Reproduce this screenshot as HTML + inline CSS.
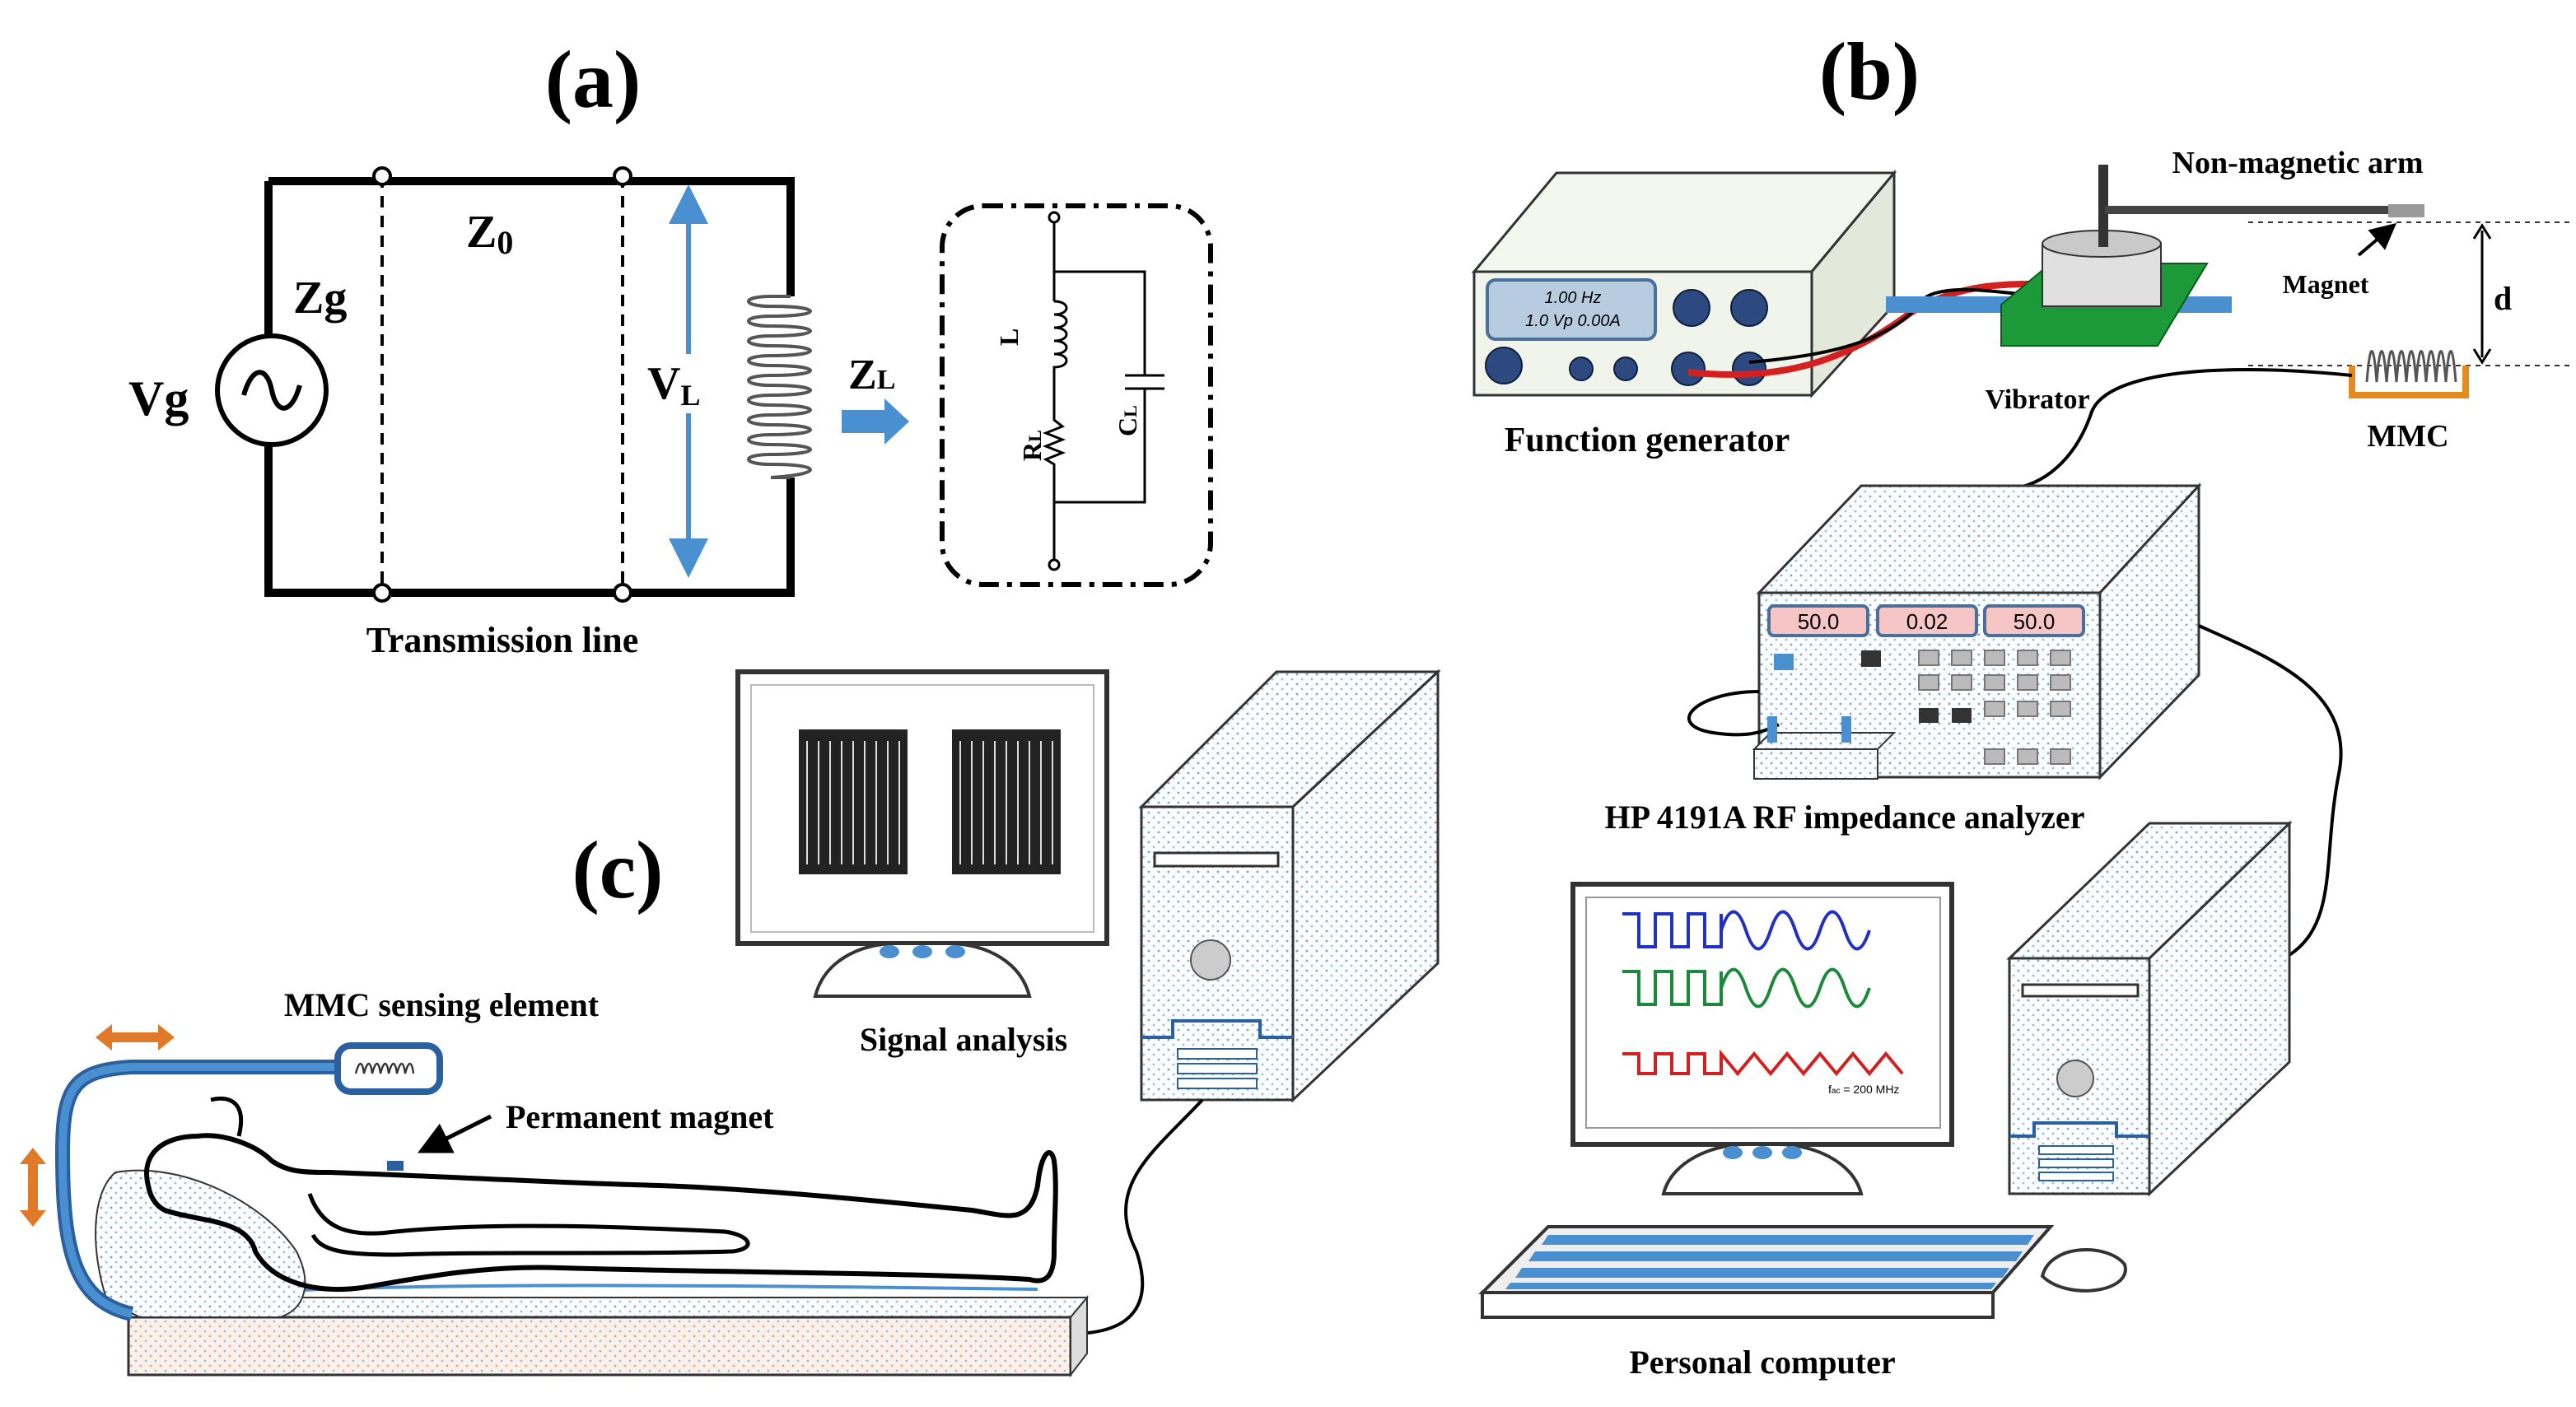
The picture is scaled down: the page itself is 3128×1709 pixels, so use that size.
<!DOCTYPE html>
<html><head><meta charset="utf-8"><style>html,body{margin:0;padding:0;background:#fff}svg{display:block}</style></head><body>
<svg width="3128" height="1709" viewBox="0 0 1564 854.5" xmlns="http://www.w3.org/2000/svg" font-family="Liberation Serif, serif" font-weight="bold">
<defs>
<pattern id="dots" width="6" height="6" patternUnits="userSpaceOnUse"><rect width="6" height="6" fill="#fafcfd"/><circle cx="1.5" cy="1.5" r="0.7" fill="#7aa7c7"/><circle cx="4.5" cy="4.5" r="0.7" fill="#9bbdd6"/></pattern>
<pattern id="dotsP" width="6" height="6" patternUnits="userSpaceOnUse"><rect width="6" height="6" fill="#fbf1ea"/><circle cx="1.5" cy="1.5" r="0.7" fill="#d9a98c"/><circle cx="4.5" cy="4.5" r="0.7" fill="#9bbdd6"/></pattern>
<marker id="ab" markerWidth="8" markerHeight="8" refX="6" refY="4" orient="auto"><path d="M0,0 L8,4 L0,8 z" fill="#4a8fd0"/></marker>
<marker id="ak" markerWidth="8" markerHeight="8" refX="6" refY="4" orient="auto"><path d="M0,0 L8,4 L0,8 z" fill="#000"/></marker>
</defs>
<rect width="1564" height="854.5" fill="#fff"/>

<!-- (a) -->
<text x="360" y="65" font-size="50" text-anchor="middle">(a)</text>
<path d="M163,110 H480 V180 M480,290 V360 H163 V270 M163,204 V110" fill="none" stroke="#000" stroke-width="5"/>
<line x1="232" y1="107" x2="232" y2="360" stroke="#000" stroke-width="2" stroke-dasharray="7,5"/>
<line x1="378" y1="107" x2="378" y2="360" stroke="#000" stroke-width="2" stroke-dasharray="7,5"/>
<g fill="#fff" stroke="#000" stroke-width="2"><circle cx="232" cy="107" r="5"/><circle cx="378" cy="107" r="5"/><circle cx="232" cy="360" r="5"/><circle cx="378" cy="360" r="5"/></g>
<circle cx="165" cy="237" r="33" fill="#fff" stroke="#000" stroke-width="3"/>
<path d="M148,240 C153,222 162,222 165,237 C168,252 177,252 182,234" fill="none" stroke="#000" stroke-width="3"/>
<text x="78" y="252" font-size="30">Vg</text>
<text x="178" y="190" font-size="28">Zg</text>
<text x="283" y="150" font-size="28">Z<tspan font-size="20" dy="4">0</tspan></text>
<line x1="418" y1="125" x2="418" y2="345" stroke="#4a8fd0" stroke-width="3" marker-end="url(#ab)"/>
<line x1="418" y1="235" x2="418" y2="118" stroke="#4a8fd0" stroke-width="3" marker-end="url(#ab)"/>
<rect x="395" y="215" width="35" height="36" fill="#fff"/>
<text x="393" y="242" font-size="28">V<tspan font-size="18" dy="4">L</tspan></text>
<g fill="none" stroke="#555" stroke-width="2">
<path d="M480,180 H468"/><path d="M480,290 H468"/>
<path d="M468,180 C450,180 450,186 468,186 C500,186 500,192 468,192 C450,192 450,198 468,198 C500,198 500,204 468,204 C450,204 450,210 468,210 C500,210 500,216 468,216 C450,216 450,222 468,222 C500,222 500,228 468,228 C450,228 450,234 468,234 C500,234 500,240 468,240 C450,240 450,246 468,246 C500,246 500,252 468,252 C450,252 450,258 468,258 C500,258 500,264 468,264 C450,264 450,270 468,270 C500,270 500,276 468,276 C450,276 450,282 468,282 C500,282 500,288 468,290"/>
</g>
<text x="515" y="236" font-size="26">Z<tspan font-size="17" dy="0">L</tspan></text>
<path d="M511,249 H537 V242 L552,256 L537,270 V263 H511 z" fill="#4a8fd0"/>
<rect x="572" y="125" width="163" height="230" rx="25" fill="none" stroke="#000" stroke-width="3" stroke-dasharray="12,5,3,5"/>
<g fill="none" stroke="#000" stroke-width="1.5">
<circle cx="640" cy="132" r="3"/><circle cx="640" cy="343" r="3"/>
<path d="M640,135 V183 M640,165 H695 V228 M683,228 H707 M683,236 H707 M695,236 V305 H640 M640,340 V290"/>
<path d="M640,183 c10,0 10,8 0,8 c10,0 10,8 0,8 c10,0 10,8 0,8 c10,0 10,8 0,8 c10,0 10,8 0,8 V255 l5,4 -10,4 10,4 -10,4 10,4 -10,4 5,3 V290"/>
</g>
<text transform="translate(618,210) rotate(-90)" font-size="16">L</text>
<text transform="translate(632,280) rotate(-90)" font-size="16">R<tspan font-size="11">L</tspan></text>
<text transform="translate(690,265) rotate(-90)" font-size="16">C<tspan font-size="11">L</tspan></text>
<text x="305" y="396" font-size="22" text-anchor="middle">Transmission line</text>

<!-- (b) -->
<text x="1135" y="60" font-size="50" text-anchor="middle">(b)</text>
<g stroke="#333" stroke-width="1.5">
<path d="M895,165 L945,105 H1150 L1100,165 z" fill="#f4f7ee"/>
<path d="M1100,165 L1150,105 V185 L1100,240 z" fill="#e3e9da"/>
<rect x="895" y="165" width="205" height="75" fill="#f0f4ea"/>
<rect x="903" y="170" width="102" height="36" rx="5" fill="#b8cce0" stroke="#4a6f9a" stroke-width="2"/>
</g>
<text x="955" y="184" font-size="10" font-style="italic" font-weight="normal" font-family="Liberation Sans, sans-serif" text-anchor="middle">1.00 Hz</text>
<text x="955" y="198" font-size="10" font-style="italic" font-weight="normal" font-family="Liberation Sans, sans-serif" text-anchor="middle">1.0 Vp  0.00A</text>
<g fill="#2c4a80" stroke="#0d1f3c"><circle cx="1027" cy="187" r="11"/><circle cx="1062" cy="187" r="11"/><circle cx="913" cy="222" r="11"/><circle cx="960" cy="224" r="7"/><circle cx="987" cy="224" r="7"/><circle cx="1025" cy="224" r="10"/><circle cx="1062" cy="224" r="10"/></g>
<text x="1000" y="274" font-size="21" text-anchor="middle">Function generator</text>
<path d="M1025,226 C1080,232 1120,220 1160,190 C1200,165 1240,175 1280,172" fill="none" stroke="#d42020" stroke-width="4"/>
<path d="M1062,220 C1120,215 1150,205 1170,180 C1190,170 1230,182 1260,180" fill="none" stroke="#000" stroke-width="2"/>
<rect x="1145" y="180" width="210" height="10" fill="#4a8fd0"/>
<path d="M1215,185 L1245,160 H1340 L1310,210 H1215 z" fill="#1c9a3a" stroke="#0a5a1a"/>
<rect x="1240" y="148" width="72" height="38" fill="#e0e0e0" stroke="#333"/>
<ellipse cx="1276" cy="148" rx="36" ry="8" fill="#c9c9c9" stroke="#333"/>
<rect x="1274" y="100" width="6" height="50" fill="#333"/>
<rect x="1278" y="125" width="172" height="5" fill="#444"/>
<rect x="1450" y="124" width="22" height="8" fill="#999"/>
<text x="1395" y="105" font-size="19" text-anchor="middle">Non-magnetic arm</text>
<text x="1412" y="178" font-size="16" text-anchor="middle">Magnet</text>
<line x1="1432" y1="155" x2="1452" y2="138" stroke="#000" stroke-width="2" marker-end="url(#ak)"/>
<line x1="1365" y1="135" x2="1560" y2="135" stroke="#333" stroke-dasharray="3,3"/>
<line x1="1365" y1="222" x2="1560" y2="222" stroke="#333" stroke-dasharray="3,3"/>
<line x1="1507" y1="140" x2="1507" y2="217" stroke="#000" stroke-width="1.5"/>
<path d="M1502,145 L1507,137 L1512,145 M1502,212 L1507,220 L1512,212" fill="none" stroke="#000" stroke-width="1.5"/>
<text x="1514" y="188" font-size="20">d</text>
<text x="1237" y="248" font-size="17" text-anchor="middle">Vibrator</text>
<path d="M1428,222 V240 H1497 V222" fill="none" stroke="#e58a1f" stroke-width="4"/>
<path d="M1437,232 c2,-25 4,-25 6,0 c2,-25 4,-25 6,0 c2,-25 4,-25 6,0 c2,-25 4,-25 6,0 c2,-25 4,-25 6,0 c2,-25 4,-25 6,0 c2,-25 4,-25 6,0 c2,-25 4,-25 6,0 c2,-25 4,-25 6,0" fill="none" stroke="#555" stroke-width="1.5"/>
<text x="1462" y="271" font-size="19" text-anchor="middle">MMC</text>
<path d="M1428,228 C1350,220 1280,225 1270,250 C1260,280 1240,295 1220,297" fill="none" stroke="#000" stroke-width="2"/>

<g stroke="#333" stroke-width="1.5">
<path d="M1068,360 L1130,295 H1335 L1275,360 z" fill="url(#dots)"/>
<path d="M1275,360 L1335,295 V410 L1275,472 z" fill="url(#dots)"/>
<rect x="1068" y="360" width="207" height="112" fill="url(#dots)"/>
</g>
<g stroke="#4a6f9a" stroke-width="2" fill="#f6c6c6"><rect x="1074" y="368" width="60" height="18" rx="3"/><rect x="1140" y="368" width="60" height="18" rx="3"/><rect x="1205" y="368" width="60" height="18" rx="3"/></g>
<g font-family="Liberation Sans, sans-serif" font-weight="normal" font-size="13" text-anchor="middle"><text x="1104" y="382">50.0</text><text x="1170" y="382">0.02</text><text x="1235" y="382">50.0</text></g>
<rect x="1077" y="397" width="12" height="10" fill="#4a8fd0"/><rect x="1130" y="395" width="12" height="10" fill="#333"/>
<g fill="#bbb" stroke="#777">
<rect x="1165" y="395" width="12" height="9"/><rect x="1185" y="395" width="12" height="9"/><rect x="1205" y="395" width="12" height="9"/><rect x="1225" y="395" width="12" height="9"/><rect x="1245" y="395" width="12" height="9"/>
<rect x="1165" y="410" width="12" height="9"/><rect x="1185" y="410" width="12" height="9"/><rect x="1205" y="410" width="12" height="9"/><rect x="1225" y="410" width="12" height="9"/><rect x="1245" y="410" width="12" height="9"/>
<rect x="1205" y="426" width="12" height="9"/><rect x="1225" y="426" width="12" height="9"/><rect x="1245" y="426" width="12" height="9"/>
<rect x="1205" y="455" width="12" height="9"/><rect x="1225" y="455" width="12" height="9"/><rect x="1245" y="455" width="12" height="9"/>
</g>
<rect x="1165" y="430" width="12" height="9" fill="#333"/><rect x="1185" y="430" width="12" height="9" fill="#333"/>
<path d="M1068,420 C1030,420 1010,440 1040,445 C1060,448 1070,445 1080,440" fill="none" stroke="#000" stroke-width="2"/>
<path d="M1065,455 L1075,445 H1150 L1140,455 z" fill="url(#dots)" stroke="#333"/>
<rect x="1065" y="455" width="75" height="18" fill="url(#dots)" stroke="#333"/>
<rect x="1073" y="435" width="6" height="16" fill="#4a8fd0"/><rect x="1118" y="435" width="6" height="16" fill="#4a8fd0"/>
<text x="1120" y="503" font-size="20" text-anchor="middle">HP 4191A RF impedance analyzer</text>
<path d="M1335,380 C1380,400 1430,420 1420,470 C1410,520 1420,560 1390,580" fill="none" stroke="#000" stroke-width="2"/>

<!-- PC (b) -->
<rect x="955" y="537" width="230" height="158" fill="#fff" stroke="#333" stroke-width="3"/>
<rect x="963" y="545" width="215" height="140" fill="#fff" stroke="#999"/>
<path d="M985,555 h10 v20 h10 v-20 h10 v20 h10 v-20 h10 v20 h10 v-20 M1045,565 c5,-15 10,-15 15,0 c5,15 10,15 15,0 c5,-15 10,-15 15,0 c5,15 10,15 15,0 c5,-15 10,-15 15,0 c5,15 10,15 15,0" fill="none" stroke="#2030c0" stroke-width="2"/>
<path d="M985,590 h10 v20 h10 v-20 h10 v20 h10 v-20 h10 v20 h10 v-20 M1045,600 c5,-15 10,-15 15,0 c5,15 10,15 15,0 c5,-15 10,-15 15,0 c5,15 10,15 15,0 c5,-15 10,-15 15,0 c5,15 10,15 15,0" fill="none" stroke="#1a8a3a" stroke-width="2"/>
<path d="M985,640 h10 v12 h10 v-12 h10 v12 h10 v-12 h10 v12 h10 v-12 l10,12 10,-12 10,12 10,-12 10,12 10,-12 10,12 10,-12 10,12 10,-12 10,12" fill="none" stroke="#d02020" stroke-width="2"/>
<text x="1110" y="664" font-size="7" font-family="Liberation Sans, sans-serif" font-weight="normal">f<tspan font-size="5">ac</tspan> = 200 MHz</text>
<path d="M1010,725 C1015,705 1040,695 1060,695 H1080 C1100,695 1125,705 1130,725 z" fill="#fff" stroke="#333" stroke-width="2"/>
<g fill="#4a8fd0"><ellipse cx="1052" cy="700" rx="6" ry="4"/><ellipse cx="1070" cy="700" rx="6" ry="4"/><ellipse cx="1088" cy="700" rx="6" ry="4"/></g>
<g stroke="#333" stroke-width="1.5">
<path d="M1220,582 L1305,500 H1390 L1305,582 z" fill="url(#dots)"/>
<path d="M1305,582 L1390,500 V645 L1305,725 z" fill="url(#dots)"/>
<rect x="1220" y="582" width="85" height="143" fill="url(#dots)"/>
<rect x="1228" y="598" width="70" height="7" fill="#fff"/>
</g>
<circle cx="1260" cy="655" r="11" fill="#ccc" stroke="#555"/>
<path d="M1220,690 H1235 V682 H1285 V690 H1305" fill="none" stroke="#2a5fa0" stroke-width="2"/>
<g fill="#fff" stroke="#2a5fa0"><rect x="1238" y="696" width="45" height="5"/><rect x="1238" y="704" width="45" height="5"/><rect x="1238" y="712" width="45" height="5"/></g>
<path d="M900,785 L940,745 H1245 L1210,785 z" fill="#eee" stroke="#333" stroke-width="2"/>
<rect x="900" y="785" width="310" height="15" fill="#fff" stroke="#333" stroke-width="2"/>
<g fill="#4a8fd0">
<path d="M940,750 H1235 L1231,756 H936 z"/><path d="M932,760 H1228 L1224,766 H928 z"/><path d="M924,770 H1220 L1216,776 H920 z"/><path d="M917,779 H1212 L1209,783 H914 z"/>
</g>
<path d="M1240,775 C1245,755 1280,755 1290,768 C1295,785 1255,790 1240,775 z" fill="#fff" stroke="#333" stroke-width="2"/>
<text x="1070" y="834" font-size="20" text-anchor="middle">Personal computer</text>

<!-- (c) -->
<text x="375" y="545" font-size="50" text-anchor="middle">(c)</text>
<rect x="448" y="408" width="224" height="165" fill="#fff" stroke="#333" stroke-width="3"/>
<rect x="456" y="416" width="208" height="150" fill="#fff" stroke="#bbb"/>
<rect x="485" y="443" width="66" height="88" fill="#222"/>
<rect x="578" y="443" width="66" height="88" fill="#222"/>
<path d="M490,450 v75 M497,525 v-75 M504,450 v75 M511,525 v-75 M518,450 v75 M525,525 v-75 M532,450 v75 M539,525 v-75 M546,450 v75 M583,450 v75 M590,525 v-75 M597,450 v75 M604,525 v-75 M611,450 v75 M618,525 v-75 M625,450 v75 M632,525 v-75 M639,450 v75" stroke="#ddd" stroke-width="1"/>
<path d="M495,605 C500,585 520,573 545,573 H575 C600,573 620,585 625,605 z" fill="#fff" stroke="#333" stroke-width="2"/>
<g fill="#4a8fd0"><ellipse cx="540" cy="578" rx="6" ry="4"/><ellipse cx="560" cy="578" rx="6" ry="4"/><ellipse cx="580" cy="578" rx="6" ry="4"/></g>
<text x="585" y="638" font-size="20" text-anchor="middle">Signal analysis</text>
<g stroke="#333" stroke-width="1.5">
<path d="M693,490 L775,408 H873 L785,490 z" fill="url(#dots)"/>
<path d="M785,490 L873,408 V585 L785,668 z" fill="url(#dots)"/>
<rect x="693" y="490" width="92" height="178" fill="url(#dots)"/>
<rect x="701" y="518" width="75" height="8" fill="#fff"/>
</g>
<circle cx="735" cy="583" r="12" fill="#ccc" stroke="#555"/>
<path d="M693,630 H712 V620 H765 V630 H785" fill="none" stroke="#2a5fa0" stroke-width="2"/>
<g fill="#fff" stroke="#2a5fa0"><rect x="715" y="637" width="48" height="6"/><rect x="715" y="646" width="48" height="6"/><rect x="715" y="655" width="48" height="6"/></g>
<path d="M730,668 C700,700 670,720 690,760 C700,790 690,810 650,810" fill="none" stroke="#000" stroke-width="2"/>

<!-- bed -->
<path d="M78,800 L90,788 H660 L650,800 z" fill="url(#dots)" stroke="#333"/>
<rect x="78" y="800" width="572" height="35" fill="url(#dotsP)" stroke="#333" stroke-width="1.5"/>
<path d="M650,800 L660,788 V822 L650,835 z" fill="#ddd" stroke="#333"/>
<path d="M100,790 C180,778 400,780 630,783" fill="none" stroke="#4a8fd0" stroke-width="2"/>
<path d="M65,790 C55,760 55,725 70,712 C110,705 160,730 180,760 C190,780 185,795 170,800 H85 z" fill="url(#dots)" stroke="#333"/>
<!-- person -->
<path d="M90,720 C85,700 100,690 120,690 C135,688 155,695 165,705 C175,712 185,712 200,712 C260,714 330,718 400,720 C460,722 540,730 590,735 C610,738 625,745 630,720 C632,700 638,695 640,705 C642,720 640,740 640,760 C640,775 635,780 625,777 C560,773 450,773 340,770 C290,768 245,778 220,782 C190,786 165,778 155,760 C150,740 120,742 100,735 C94,732 91,726 90,720 z" fill="none" stroke="#000" stroke-width="3"/>
<path d="M188,725 C195,745 210,752 240,748 C300,742 380,745 440,748 C455,750 460,758 445,760 C380,762 300,760 240,762 C210,762 195,760 190,750" fill="none" stroke="#000" stroke-width="2.5"/>
<path d="M145,690 C150,670 140,665 128,668" fill="none" stroke="#000" stroke-width="2.5"/>
<rect x="235" y="705" width="10" height="6" fill="#2a5fa0"/>
<!-- arm -->
<path d="M80,798 C45,790 38,760 38,700 C38,660 45,650 80,648 H205" fill="none" stroke="#2a5fa0" stroke-width="9"/>
<path d="M80,798 C45,790 38,760 38,700 C38,660 45,650 80,648 H205" fill="none" stroke="#4a8fd0" stroke-width="5"/>
<rect x="205" y="635" width="62" height="28" rx="8" fill="#fff" stroke="#2a5fa0" stroke-width="4"/>
<path d="M216,652 c2,-8 4,-8 5,0 c2,-8 4,-8 5,0 c2,-8 4,-8 5,0 c2,-8 4,-8 5,0 c2,-8 4,-8 5,0 c2,-8 4,-8 5,0 c2,-8 4,-8 5,0" fill="none" stroke="#333" stroke-width="1.2"/>
<g fill="#e07a2a"><path d="M58,630 L68,622 V627 H96 V622 L106,630 L96,638 V633 H68 V638 z"/><path d="M20,697 L28,707 H23 V735 H28 L20,745 L12,735 H17 V707 H12 z"/></g>
<text x="268" y="617" font-size="20" text-anchor="middle">MMC sensing element</text>
<text x="307" y="685" font-size="20">Permanent magnet</text>
<line x1="298" y1="678" x2="258" y2="698" stroke="#000" stroke-width="2.5" marker-end="url(#ak)"/>
</svg>
</body></html>
